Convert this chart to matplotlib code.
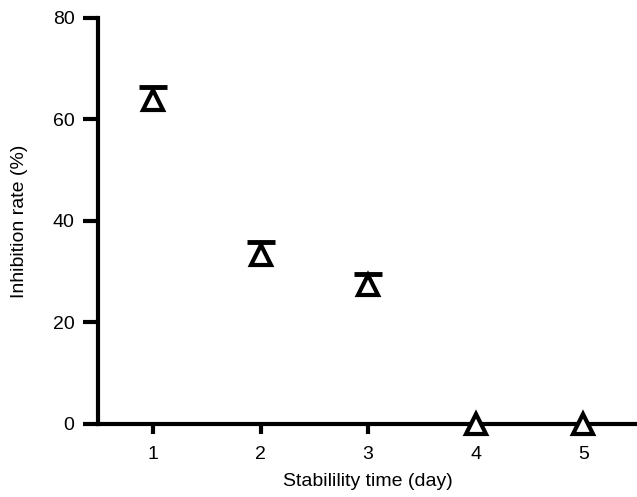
import matplotlib
matplotlib.use('Agg')
import matplotlib.pyplot as plt

plt.rcParams['font.family'] = ['Liberation Sans', 'DejaVu Sans']

days = [1, 2, 3, 4, 5]
inhibition = [63.8, 33.3, 27.4, 0.0, 0.0]
err_up = [2.6, 2.6, 2.2, 0.0, 0.0]

fig = plt.figure(figsize=(6.37, 4.97), dpi=100)
ax = fig.add_axes([0.154, 0.147, 0.846, 0.817])

# only the upper half of each error bar is visible (lower half hidden by marker)
tops = [v + e for v, e in zip(inhibition, err_up)]
bar_days = [d for d, e in zip(days, err_up) if e > 0]
bar_low = [v for v, e in zip(inhibition, err_up) if e > 0]
bar_top = [t for t, e in zip(tops, err_up) if e > 0]
ax.vlines(bar_days, bar_low, bar_top, colors='black', linewidth=3, zorder=2)
ax.plot(bar_days, bar_top, linestyle='none', marker='_', markersize=20,
        markeredgewidth=3.5, color='black', zorder=2)
ax.plot(days, inhibition, linestyle='none', marker='^', markersize=15,
        markerfacecolor='white', markeredgecolor='black', markeredgewidth=3,
        zorder=3, clip_on=False)

ax.set_xlim(0.49, 5.5)
ax.set_ylim(0, 80)
ax.set_xticks(days)
ax.set_yticks([0, 20, 40, 60, 80])
ax.spines['top'].set_visible(False)
ax.spines['right'].set_visible(False)
for s in ['left', 'bottom']:
    ax.spines[s].set_linewidth(3)
ax.tick_params(axis='y', length=11, width=3, labelsize=14, pad=6)
ax.tick_params(axis='x', length=7, width=3, labelsize=14, pad=9)

ax.set_xlabel('Stabilility time (day)', fontsize=14, labelpad=7)
ax.set_ylabel('Inhibition rate (%)', fontsize=14, labelpad=18)

fig.savefig('out.png', dpi=100)
